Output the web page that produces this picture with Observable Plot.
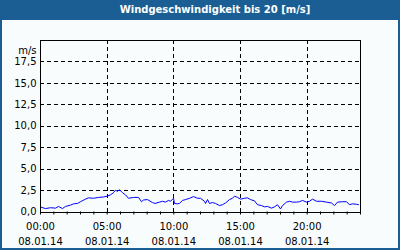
<!DOCTYPE html>
<html>
<head>
<meta charset="utf-8">
<script src="https://cdn.jsdelivr.net/npm/d3@7"></script>
<script src="https://cdn.jsdelivr.net/npm/@observablehq/plot@0.6"></script>
<style>
  html, body { margin: 0; padding: 0; background: #ffffff; }
  #wrap { position: relative; width: 400px; height: 250px; background: #f8fcfc; overflow: hidden; }
  #title { position: absolute; top: 0; left: 0; width: 400px; height: 20px; background: #1b5e94; color: #ffffff;
           font: bold 10px "DejaVu Sans"; line-height: 20px; text-align: center; padding-left: 30px; box-sizing: border-box; }
  #chart { position: absolute; top: 20px; left: 0; }
  .bd { position: absolute; background: #1b5e94; }
  #chart svg line, #chart svg rect { shape-rendering: crispEdges; }
</style>
</head>
<body>
<div id="wrap">
  <div id="title">Windgeschwindigkeit bis 20 [m/s]</div>
  <div id="chart"></div>
  <div class="bd" style="left:0;top:0;width:2px;height:250px"></div>
  <div class="bd" style="right:0;top:0;width:2px;height:250px"></div>
  <div class="bd" style="left:0;bottom:0;width:400px;height:2px"></div>
</div>
<script>
const hours = [0, 0.375, 0.75, 1.125, 1.35, 1.65, 1.875, 2.25, 2.475, 2.775, 3.0, 3.375, 3.6, 3.975, 4.35, 4.725,
  5.0, 5.25, 5.475, 5.625, 5.775, 5.925, 6.15, 6.375, 6.6, 6.975, 7.35, 7.575, 7.725, 8.025, 8.4, 8.6, 8.925,
  9.15, 9.375, 9.6, 9.75, 9.975, 10.05, 10.275, 10.425, 10.65, 10.875, 11.175, 11.475, 11.775, 12.0, 12.3,
  12.375, 12.525, 12.675, 12.9, 13.125, 13.425, 13.65, 13.875, 14.175, 14.4, 14.55, 14.775, 15.0, 15.3, 15.525,
  15.75, 16.05, 16.275, 16.575, 16.8, 17.025, 17.325, 17.55, 17.775, 18.0, 18.15, 18.45, 18.675, 18.9, 19.2,
  19.425, 19.65, 19.95, 20.175, 20.4, 20.7, 21.075, 21.45, 21.825, 22.05, 22.275, 22.65, 22.95, 23.175, 23.4,
  23.7, 23.85];
const speed = [0.58, 0.4, 0.5, 0.45, 0.65, 0.4, 0.65, 0.8, 0.95, 1.0, 1.2, 1.5, 1.65, 1.6, 1.7, 1.75,
  1.85, 2.0, 2.25, 2.55, 2.4, 2.6, 2.25, 2.0, 1.6, 1.7, 1.7, 1.2, 1.4, 1.45, 1.1, 1.0, 1.15,
  1.25, 1.15, 1.35, 1.25, 1.6, 1.0, 0.95, 1.0, 1.35, 1.45, 1.6, 1.8, 1.6, 1.6, 1.25,
  1.0, 1.45, 1.0, 1.1, 1.0, 0.75, 0.85, 1.05, 1.45, 1.6, 1.85, 1.7, 1.5, 1.6, 1.65,
  1.45, 1.3, 0.85, 0.75, 0.6, 0.65, 0.45, 0.6, 0.85, 0.35, 0.75, 1.15, 1.25, 1.15, 1.15,
  1.2, 1.35, 1.15, 1.25, 1.5, 1.25, 1.25, 1.15, 1.05, 0.75, 1.15, 1.2, 1.2, 0.85, 0.95,
  0.9, 0.85];

const labelHours = [0, 5, 10, 15, 20];
const timeLabels = ["00:00", "05:00", "10:00", "15:00", "20:00"];
const dateLabels = ["08.01.14", "08.01.14", "08.01.14", "08.01.14", "08.01.14"];
const hourTicks = d3.range(0, 25);
const yTicks = [0, 2.5, 5, 7.5, 10, 12.5, 15, 17.5];
const unitLabel = ["m/s"];

const data = hours.map((h, i) => ({h, v: speed[i]}));
const grid = {stroke: "black", strokeOpacity: 1, strokeDasharray: "4,3"};

const chart = Plot.plot({
  width: 400,
  height: 230,
  marginTop: 20,
  marginBottom: 38.5,
  marginLeft: 40,
  marginRight: 40,
  style: {background: "transparent", fontFamily: "DejaVu Sans", fontSize: "10px", color: "black"},
  x: {domain: [0, 24], label: null},
  y: {domain: [0, 20], label: null},
  marks: [
    Plot.gridY(yTicks.filter(d => d > 0), grid),
    Plot.gridX(labelHours.filter(d => d > 0), grid),
    Plot.line(data, {x: "h", y: "v", stroke: "#0000ff", strokeWidth: 1}),
    Plot.frame({stroke: "black"}),
    Plot.axisX(hourTicks, {tickSize: 3, tickFormat: () => ""}),
    Plot.axisX(labelHours, {tickSize: 0, tickPadding: 10.5, tickFormat: d => timeLabels[labelHours.indexOf(d)]}),
    Plot.axisX(labelHours, {tickSize: 0, tickPadding: 25.5, tickFormat: d => dateLabels[labelHours.indexOf(d)]}),
    Plot.axisY(yTicks, {tickSize: 0, tickPadding: 4, tickFormat: d => d.toFixed(1).replace(".", ",")}),
    Plot.text(unitLabel, {frameAnchor: "top-left", textAnchor: "end", dx: -4, dy: 6})
  ]
});
document.getElementById("chart").appendChild(chart);
</script>
</body>
</html>
